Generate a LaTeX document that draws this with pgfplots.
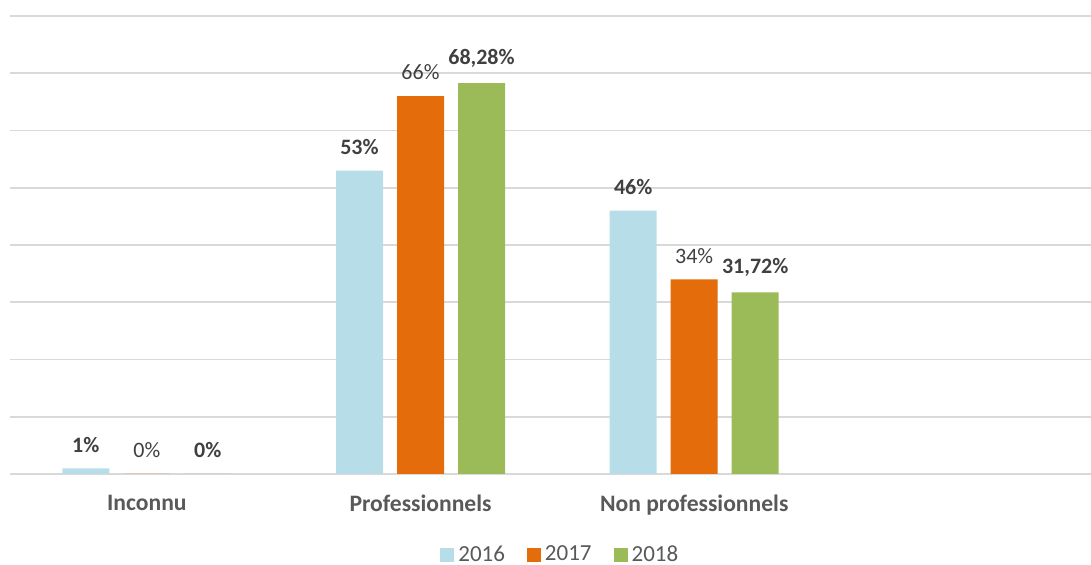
\documentclass[border=0pt]{standalone}
\usepackage{fontspec}
\setmainfont{Carlito}
\usepackage{pgfplots}
\pgfplotsset{compat=1.18}

\definecolor{c2016}{HTML}{B7DEE8}
\definecolor{c2017}{HTML}{E46C0A}
\definecolor{c2018}{HTML}{9BBB59}
\definecolor{gridc}{HTML}{D9D9D9}
\definecolor{labc}{HTML}{595959}
\definecolor{valc}{HTML}{404040}

\begin{document}
\begin{tikzpicture}
  \begin{axis}[
      scale only axis,
      width=540.5pt, height=229pt,
      ybar=7pt, bar width=23.5pt,
      xmin=-0.5, xmax=3.45,
      ymin=0, ymax=80,
      ytick={0,10,...,80}, yticklabels={},
      ymajorgrids, grid style={gridc, line width=0.8pt},
      axis line style={draw=none},
      major tick length=0pt,
      xtick={0,1,2},
      xticklabels={Inconnu, Professionnels, Non professionnels},
      xticklabel style={font=\fontsize{11.8}{14}\selectfont\bfseries, text=labc, yshift=-7pt},
      point meta=explicit symbolic,
      nodes near coords={\pgfplotspointmeta},
      every node near coord/.append style={font=\fontsize{11}{13}\selectfont, text=valc, yshift=4.5pt},
      clip=false,
      legend columns=3,
      legend style={draw=none, fill=none, at={(0.51,-40.5pt)}, anchor=center,
        font=\fontsize{11.5}{13}\selectfont, text=labc,
        /tikz/every even column/.append style={column sep=9pt}},
      legend image code/.code={\fill[#1] (0pt,-3.5pt) rectangle (7pt,3.5pt);},
    ]
    \addplot[fill=c2016, draw=none,
      every node near coord/.append style={font=\fontsize{11}{13}\selectfont\bfseries}]
      coordinates {(0,1) [1\%] (1,53) [53\%] (2,46) [46\%]};
    \addplot[fill=c2017, draw=none]
      coordinates {(0,0) [0\%] (1,66) [66\%] (2,34) [34\%]};
    \addplot[fill=c2018, draw=none,
      every node near coord/.append style={font=\fontsize{11}{13}\selectfont\bfseries}]
      coordinates {(0,0) [0\%] (1,68.28) [{68,28\%}] (2,31.72) [{31,72\%}]};
    \legend{2016, 2017, 2018}
  \end{axis}
  \pgfresetboundingbox
  \path (-5pt,-45.5pt) rectangle (540.5pt,237pt);
\end{tikzpicture}
\end{document}
